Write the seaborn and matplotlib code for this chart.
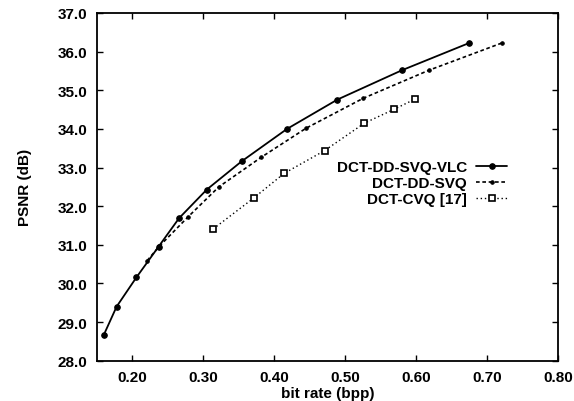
import matplotlib
matplotlib.use("Agg")
import matplotlib.pyplot as plt
import seaborn as sns

sns.set_style("ticks")
plt.rcParams['font.family'] = ['Liberation Sans', 'DejaVu Sans']
plt.rcParams['text.color'] = 'black'
plt.rcParams['axes.labelcolor'] = 'black'

# data
vlc_rate = [0.160, 0.178, 0.206, 0.237, 0.266, 0.305, 0.354, 0.418, 0.489, 0.580, 0.674]
vlc_psnr = [28.67, 29.40, 30.16, 30.95, 31.69, 32.43, 33.16, 34.00, 34.76, 35.52, 36.22]

svq_rate = [0.221, 0.238, 0.279, 0.322, 0.382, 0.445, 0.525, 0.618, 0.720]
svq_psnr = [30.59, 30.96, 31.73, 32.50, 33.27, 34.02, 34.79, 35.52, 36.22]

cvq_rate = [0.314, 0.371, 0.414, 0.471, 0.527, 0.569, 0.598]
cvq_psnr = [31.41, 32.21, 32.85, 33.44, 34.15, 34.51, 34.77]

xticks = [0.20, 0.30, 0.40, 0.50, 0.60, 0.70, 0.80]
yticks = [28.0, 29.0, 30.0, 31.0, 32.0, 33.0, 34.0, 35.0, 36.0, 37.0]

fs = 11
fig = plt.figure(figsize=(5.74, 4.02), dpi=100)
ax = fig.add_axes([0.1685, 0.1002, 0.8042, 0.865])

sns.lineplot(x=vlc_rate, y=vlc_psnr, ax=ax, color='black', lw=1.3, marker='o',
             markersize=4, markeredgecolor='black', sort=False, label='DCT-DD-SVQ-VLC')
sns.lineplot(x=svq_rate, y=svq_psnr, ax=ax, color='black', lw=1.2, marker='o',
             markersize=2.5, markeredgecolor='black', sort=False,
             label='DCT-DD-SVQ')
ax.lines[-1].set_dashes([2.2, 1.6])
sns.lineplot(x=cvq_rate, y=cvq_psnr, ax=ax, color='black', lw=1.0, marker='s',
             markersize=4.5, markerfacecolor='white', markeredgecolor='black',
             markeredgewidth=1.2, sort=False, label='DCT-CVQ [17]')
ax.lines[-1].set_dashes([1, 2])

ax.set_xlim(0.15, 0.80)
ax.set_ylim(28.0, 37.0)
ax.set_xticks(xticks)
ax.set_yticks(yticks)
ax.set_xticklabels(['%.2f' % v for v in xticks], fontweight='bold')
ax.set_yticklabels(['%.1f' % v for v in yticks], fontweight='bold')
ax.tick_params(direction='in', length=4, width=1, top=True, right=True,
               labelsize=fs, pad=7, colors='black')
for s in ax.spines.values():
    s.set_linewidth(1.3)
    s.set_color('black')

ax.set_xlabel('bit rate (bpp)', fontsize=fs, fontweight='bold', labelpad=1)
ax.set_ylabel('PSNR (dB)', fontsize=fs, fontweight='bold', labelpad=18)

leg = ax.legend(loc='upper right', bbox_to_anchor=(0.905, 0.598), frameon=False,
                markerfirst=False, prop={'size': fs, 'weight': 'bold'},
                handlelength=2.0, handletextpad=0.6, labelspacing=0.12, borderpad=0)

fig.savefig('out.png', dpi=100)
